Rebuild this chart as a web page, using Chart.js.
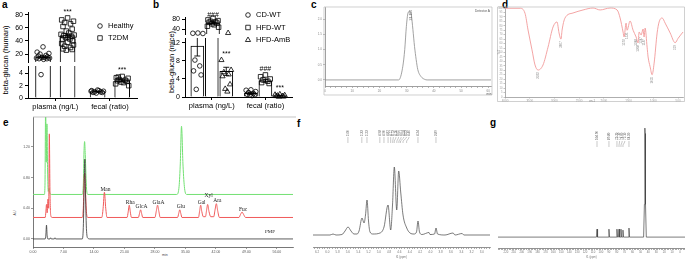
<!DOCTYPE html>
<html>
<head>
<meta charset="utf-8">
<title>beta-glucan figure</title>
<script src="https://cdn.jsdelivr.net/npm/chart.js@4.4.1/dist/chart.umd.min.js"></script>
<style>
  body { margin: 0; background: #fff; }
  #fig { position: relative; width: 685px; height: 259px; overflow: hidden; background: #fff;
         font-family: "Liberation Sans", Arial, sans-serif; color: #000; }
  #fig canvas { position: absolute; }
  .tag { position: absolute; font-weight: bold; font-size: 10px; line-height: 10px; }
  .txt { position: absolute; line-height: 1; white-space: nowrap; }
  .rot { transform: translate(-50%, -50%) rotate(-90deg); }
</style>
</head>
<body>
<div id="fig">
  <div class="tag" style="left:2px;top:0px">a</div>
  <div class="tag" style="left:153px;top:0px">b</div>
  <div class="tag" style="left:311px;top:0px">c</div>
  <div class="tag" style="left:502px;top:0px">d</div>
  <div class="tag" style="left:3px;top:118px">e</div>
  <div class="tag" style="left:297px;top:119px">f</div>
  <div class="tag" style="left:490px;top:118px">g</div>
  <div class="txt rot" style="left:6px;top:60px;font-size:7.5px">beta-glucan (human)</div>
  <div class="txt rot" style="left:172px;top:62px;font-size:7.5px">beta-glucan (mice)</div>
  <div class="txt rot" style="left:16px;top:213px;font-size:3.5px;color:#444">AU</div>
  <div class="txt" style="left:162px;top:254px;font-size:3.5px;color:#444">min</div>
</div>
<script>
// ---------- panel a : human ----------
const groupLabels = ['plasma (ng/L)', 'fecal (ratio)'];
const humanNames = ['Healthy', 'T2DM'];
const healthyMean = [15.5, 1.05];
const t2dmMean = [48, 2.8];
const healthySem = [1.2, 0.06];
const t2dmSem = [2.6, 0.15];
const healthyPlasma = [31, 23, 21, 20, 18, 17, 16, 15, 15, 14, 14, 13, 13, 12, 3.8];
const healthyFecal = [1.3, 1.2, 1.1, 1.0, 1.0, 0.9, 0.9, 0.8, 1.2, 1.1];
const t2dmPlasma = [75, 72, 70, 68, 66, 62, 58, 55, 52, 50, 49, 48, 47, 46, 45, 43, 42, 40, 38, 36, 34, 32, 30, 28, 27, 26];
const t2dmFecal = [3.5, 3.3, 3.2, 3.0, 2.9, 2.8, 2.7, 2.6, 2.5, 2.3, 2.0, 3.4];
const humanMarks = [['', ''], ['***', '***']];
const aUpperTicks = [20, 40, 60, 80];
const aLowerTicks = [0, 1, 2, 3, 4, 5];

// ---------- panel b : mice ----------
const mouseNames = ['CD-WT', 'HFD-WT', 'HFD-AmB'];
const cdMean = [11.3, 0.8];
const hfdMean = [65, 3.6];
const amBMean = [5.7, 0.3];
const cdSem = [2.2, 0.18];
const hfdSem = [4, 0.3];
const amBSem = [0.9, 0.08];
const cdPlasma = [24, 23, 22, 8.2, 6.9, 5.8, 4.9, 1.7];
const cdFecal = [1.6, 1.5, 1.2, 1.0, 0.8, 0.6, 0.5, 0.4, 0.3];
const hfdPlasma = [84, 78, 75, 72, 70, 68, 65, 62, 58, 52, 48];
const hfdFecal = [4.9, 4.5, 4.0, 3.8, 3.5, 3.2, 3.0];
const amBPlasma = [24, 8.2, 6.0, 5.5, 5.0, 4.6, 2.8, 1.8, 1.2];
const amBFecal = [0.6, 0.5, 0.4, 0.3, 0.2, 0.2, 0.1, 0.05];
const mouseMarks = [['', ''], ['###', '###'], ['***', '***']];
const bUpperTicks = [40, 80];
const bLowerTicks = [0, 2, 4, 6, 8, 10, 12];

// ---------- panel c : HPGPC ----------
const cTrace = [[0, 0], [27, 0], [27.4, 0.02], [28.6, 0.45], [29.3, 1.0], [29.9, 1.76], [30.5, 2.2], [31.1, 2.26],
  [31.7, 2.15], [32.3, 1.66], [32.9, 1.1], [33.5, 0.67], [34.1, 0.34], [35.3, 0.11], [36.6, 0.02], [37.5, 0], [61, 0]];
const cPeakTime = 31.1;
const cTimeTicks = [0, 10, 20, 30, 40, 50, 60];
const cSignalTicks = [0, 0.5, 1.0, 1.5, 2.0];

// ---------- panel d : FT-IR ----------
const dSpectrum = [[4000, 99.7], [3899, 99.7], [3696, 99.7], [3595, 94], [3534, 75.3], [3454, 53], [3393, 36],
  [3332, 30.3], [3231, 36], [3130, 56], [3028, 78.7], [2948, 84.3], [2907, 72], [2867, 65], [2846, 75],
  [2786, 88.8], [2624, 94.4], [2421, 97.8], [2219, 100], [2077, 97.8], [1875, 100], [1733, 97.8], [1672, 88.8],
  [1612, 73], [1592, 67.4], [1551, 83], [1531, 75], [1470, 85.4], [1409, 75], [1348, 67.4], [1308, 60.7],
  [1288, 73], [1247, 69.7], [1207, 76.4], [1187, 67.4], [1166, 77.5], [1126, 56], [1106, 45], [1065, 34],
  [1025, 25], [984, 38], [923, 72], [883, 84.3], [822, 88.8], [761, 83], [660, 72], [559, 61], [498, 66], [400, 73]];
const dMinima = [3332, 2867, 1592, 1531, 1348, 1308, 1247, 1187, 1025, 559];
const dWaveTicks = [4000, 3500, 3000, 2500, 2000, 1500, 1000, 500];

// ---------- panel e : monosaccharides ----------
const ePMP = [[0, 0], [2.8, 0], [2.95, 0.05], [3.1, 0.18], [3.25, 0.04], [3.45, 0], [3.9, 0], [4.05, 0.015], [4.2, 0],
  [4.9, 0], [5.05, 0.015], [5.2, 0], [11.3, 0], [11.55, 0.15], [11.75, 0.7], [11.9, 1.04], [12.05, 0.6],
  [12.3, 0.1], [12.6, 0.01], [13, 0], [59.7, 0]];
const eSample = [[0, 0.28], [2.8, 0.28], [2.95, 0.35], [3.1, 0.45], [3.25, 0.34], [3.45, 0.52], [3.6, 0.4],
  [3.75, 1.37], [3.9, 0.6], [4.1, 0.3], [4.4, 0.28], [11.3, 0.28], [11.55, 0.4], [11.75, 0.8], [11.88, 0.86],
  [12.0, 0.7], [12.3, 0.33], [12.6, 0.28],
  [15.8, 0.28], [16.1, 0.4], [16.4, 0.61], [16.7, 0.4], [17.0, 0.28],
  [21.6, 0.28], [21.85, 0.35], [22.1, 0.44], [22.35, 0.35], [22.6, 0.28],
  [24.2, 0.28], [24.45, 0.33], [24.7, 0.38], [24.95, 0.33], [25.2, 0.28],
  [28.0, 0.28], [28.3, 0.36], [28.6, 0.44], [28.9, 0.36], [29.2, 0.28],
  [33.2, 0.28], [33.45, 0.33], [33.7, 0.38], [33.95, 0.33], [34.2, 0.28],
  [38.0, 0.28], [38.25, 0.36], [38.5, 0.44], [38.75, 0.36], [39.1, 0.29],
  [39.6, 0.29], [39.85, 0.37], [40.1, 0.45], [40.4, 0.36], [40.8, 0.29],
  [41.5, 0.29], [41.8, 0.38], [42.1, 0.46], [42.4, 0.37], [42.8, 0.28],
  [47.3, 0.28], [47.65, 0.32], [48.0, 0.35], [48.35, 0.32], [48.8, 0.28], [59.7, 0.28]];
const eStandard = [[0, 0.58], [2.6, 0.58], [2.75, 0.7], [2.9, 1.75], [3.05, 1.0], [3.2, 1.5], [3.35, 0.9],
  [3.5, 0.62], [3.7, 0.66], [3.85, 0.6], [4.2, 0.58], [11.3, 0.58], [11.55, 0.7], [11.72, 1.15], [11.85, 1.27],
  [12.0, 1.1], [12.3, 0.65], [12.6, 0.58], [33.0, 0.58], [33.5, 0.66], [33.8, 0.95], [34.1, 1.47],
  [34.45, 0.95], [34.8, 0.66], [35.3, 0.58], [59.7, 0.58]];
const eSugarNames = ['Man', 'Rha', 'GlcA', 'GlaA', 'Glu', 'Gal', 'Xyl', 'Ara', 'Fuc'];
const eSugarTimes = [16.4, 22.1, 24.7, 28.6, 33.7, 38.5, 40.1, 42.1, 48.0];
const eSugarHeights = [0.61, 0.44, 0.38, 0.44, 0.38, 0.44, 0.45, 0.46, 0.35];
const eTimeTicks = [0, 7, 14, 21, 28, 35, 42, 49, 56];
const eAbsTicks = [0, 0.4, 0.8, 1.2];

// ---------- panel f : 1H NMR ----------
const fSpectrum = [[6.278, 0], [5.948, 0], [5.889, 1], [5.831, 0], [5.715, 0.5], [5.656, 4], [5.598, 8],
  [5.540, 4], [5.482, 1], [5.423, 1], [5.384, 4], [5.326, 17], [5.287, 12], [5.258, 20], [5.229, 35],
  [5.200, 14], [5.171, 3], [5.113, 1], [4.977, 2], [4.899, 8], [4.821, 30], [4.769, 5], [4.734, 30],
  [4.699, 68], [4.652, 25], [4.614, 64], [4.575, 43], [4.530, 20], [4.458, 7], [4.394, 2], [4.317, 1],
  [4.268, 3], [4.239, 14], [4.210, 3], [4.161, 0.5], [4.025, 2.5], [4.006, 0.5], [3.918, 1], [3.889, 7],
  [3.860, 1], [3.715, 0], [3.559, 2], [3.520, 0], [3.384, 1.5], [3.346, 0], [2.841, 0]];
const fPeakLabels = [5.60, 5.33, 5.23, 4.98, 4.90, 4.82, 4.77, 4.73, 4.70, 4.65, 4.61, 4.58, 4.53, 4.46, 4.24, 3.89];
const fShiftTicks = [6.2, 6.0, 5.8, 5.6, 5.4, 5.2, 5.0, 4.8, 4.6, 4.4, 4.2, 4.0, 3.8, 3.6, 3.4, 3.2, 3.0];

// ---------- panel g : 13C NMR ----------
const gSpectrum = [[230, 0], [105.6, 0], [104.9, 7.3], [104.2, 0], [90.5, 0], [89.8, 7.3], [89.1, 0],
  [80.4, 0], [79.7, 7.3], [79.0, 0], [77.8, 0], [77.1, 7.3], [76.4, 0], [75.3, 0], [74.6, 7.3], [73.9, 0],
  [72.8, 0], [72.1, 6.4], [71.4, 0], [65.2, 0], [64.5, 8.3], [63.8, 0], [46, 0], [45, 30], [44.5, 95],
  [44.3, 100], [44.1, 95], [43.6, 30], [42.6, 0], [-6.3, 0]];
const gPeakLabels = [104.9, 89.8, 79.7, 77.1, 74.6, 72.1, 64.5];
const gShiftTicks = [220, 210, 200, 190, 180, 170, 160, 150, 140, 130, 120, 110, 100, 90, 80, 70, 60, 50, 40, 30, 20, 10, 0];

// ---------- setup ----------
Chart.defaults.font.family = '"Liberation Sans", Arial, sans-serif';
Chart.defaults.color = '#000';
Chart.defaults.animation = false;
Chart.defaults.responsive = false;
Chart.defaults.events = [];
Chart.defaults.plugins.legend.display = false;
Chart.defaults.plugins.tooltip.enabled = false;

const fig = document.getElementById('fig');
const spread = [0, -0.9, 0.9, -0.45, 0.45, -0.7, 0.7, -0.2, 0.2, -1, 1, -0.6, 0.6, 0.1, -0.3, 0.35, -0.8, 0.8];

function makeCanvas(left, top, w, h) {
  const c = document.createElement('canvas');
  c.width = w;
  c.height = h;
  c.style.left = left + 'px';
  c.style.top = top + 'px';
  c.style.width = w + 'px';
  c.style.height = h + 'px';
  fig.appendChild(c);
  return c.getContext('2d');
}

function ladder(from, to, step) {
  const out = [];
  const n = Math.round((to - from) / step);
  for (let i = 0; i <= n; i++) out.push(+(from + i * step).toFixed(4));
  return out;
}

function isMajor(v, list) {
  return list.some(m => Math.abs(m - v) < 1e-6);
}

// axes keep the plot area where the layout puts it, whatever their edge labels need
function noEdgePadding(s) {
  s.paddingTop = 0;
  s.paddingBottom = 0;
  s.paddingLeft = 0;
  s.paddingRight = 0;
}

// error bars, significance marks and the inner legend of the dot/bar panels
function errorPlugin(o) {
  return {
    id: 'errorBars',
    afterDatasetsDraw(chart) {
      const { ctx, chartArea: a } = chart;
      const y = chart.scales.y;
      ctx.save();
      ctx.beginPath();
      ctx.rect(a.left, a.top, a.right - a.left, a.bottom - a.top);
      ctx.clip();
      ctx.strokeStyle = '#000';
      ctx.lineWidth = 0.9;
      o.errors.forEach((errs, g) => {
        const bars = chart.getDatasetMeta(g).data;
        errs.forEach((e, i) => {
          const m = o.means[g][i];
          const x = bars[i].x;
          const y1 = y.getPixelForValue(m - e);
          const y2 = y.getPixelForValue(m + e);
          ctx.beginPath();
          ctx.moveTo(x, y1); ctx.lineTo(x, y2);
          ctx.moveTo(x - 3, y1); ctx.lineTo(x + 3, y1);
          ctx.moveTo(x - 3, y2); ctx.lineTo(x + 3, y2);
          ctx.stroke();
        });
      });
      ctx.restore();
    }
  };
}

function markPlugin(o) {
  return {
    id: 'marks',
    afterDatasetsDraw(chart) {
      const ctx = chart.ctx;
      const y = chart.scales.y;
      ctx.save();
      ctx.font = '7px "Liberation Sans", Arial, sans-serif';
      ctx.textAlign = 'center';
      ctx.textBaseline = 'middle';
      ctx.fillStyle = '#000';
      o.marks.forEach((row, g) => row.forEach((txt, i) => {
        const m = o.means[g][i];
        if (!txt || m < y.min || m > y.max) return;
        const shown = o.points[g][i].filter(v => v <= y.max);
        const top = Math.max(m + o.errors[g][i], ...shown);
        const x = chart.getDatasetMeta(g).data[i].x;
        ctx.fillText(txt, x, Math.max(y.getPixelForValue(top) - 6, o.markMinY));
      }));
      ctx.restore();
    }
  };
}

function legendPlugin(o) {
  return {
    id: 'dotLegend',
    afterDraw(chart) {
      if (!o.legend) return;
      const ctx = chart.ctx;
      ctx.save();
      ctx.font = '7.5px "Liberation Sans", Arial, sans-serif';
      ctx.textBaseline = 'middle';
      ctx.textAlign = 'left';
      ctx.strokeStyle = '#000';
      ctx.lineWidth = 0.8;
      o.names.forEach((name, g) => {
        const y = o.legend.y + g * o.legend.dy;
        ctx.fillStyle = 'rgba(0,0,0,0)';
        Chart.helpers.drawPoint(ctx, { pointStyle: o.shapes[g], radius: o.radii[g], borderWidth: 0.8, rotation: 0 }, o.legend.x, y);
        ctx.fillStyle = '#000';
        ctx.fillText(name, o.legend.x + o.legend.gap, y);
      });
      ctx.restore();
    }
  };
}

function dotBarChart(ctx, o) {
  const nSets = o.means.length;
  const groupX = (g, i) => i + (g - (nSets - 1) / 2) * o.slot;
  const inSegment = v => v >= o.yMin && v <= o.yMax;
  const datasets = [];
  // each half of the broken axis only carries the bars and dots that fall inside it
  o.means.forEach((m, g) => datasets.push({
    type: 'bar', label: o.names[g],
    data: m.map((v, i) => ({ x: groupX(g, i), y: v >= o.yMin ? v : null })),
    grouped: false, barThickness: o.barPx,
    backgroundColor: '#fff', borderColor: '#000', borderWidth: 1, clip: 0, order: 3
  }));
  o.points.forEach((perCat, g) => {
    const data = [];
    perCat.forEach((vals, i) => vals.forEach((v, k) => {
      if (inSegment(v)) data.push({ x: groupX(g, i) + spread[k % spread.length] * o.jitter, y: v });
    }));
    datasets.push({
      type: 'scatter', label: o.names[g], data,
      pointStyle: o.shapes[g], pointRadius: o.radii[g], borderColor: '#000',
      backgroundColor: 'rgba(0,0,0,0)', borderWidth: 0.8,
      clip: { left: 5, right: 5, top: 3, bottom: 3 }, order: 1
    });
  });

  return new Chart(ctx, {
    type: 'bar',
    data: { datasets },
    options: {
      devicePixelRatio: 1,
      layout: { padding: o.padding },
      scales: {
        x: {
          type: 'linear', min: -0.5, max: groupLabels.length - 0.5, offset: false, display: o.showX,
          afterBuildTicks: s => { s.ticks = groupLabels.map((_, i) => ({ value: i })); },
          grid: { display: true, offset: false, drawOnChartArea: false, tickLength: 3, color: '#000', lineWidth: 1 },
          border: { color: '#000', width: 1 },
          ticks: { font: { size: 7.5 }, padding: 1, maxRotation: 0, autoSkip: false, callback: v => groupLabels[v] },
          afterFit: s => { noEdgePadding(s); if (o.showX) s.height = 14; }
        },
        y: {
          min: o.yMin, max: o.yMax,
          afterFit: s => { noEdgePadding(s); s.width = o.yWidth; },
          afterBuildTicks: s => { s.ticks = o.yTicks.map(v => ({ value: v })); },
          ticks: { font: { size: 7 }, padding: 2 },
          grid: { drawOnChartArea: false, tickLength: 3, color: '#000', lineWidth: 1 },
          border: { color: '#000', width: 1 }
        }
      }
    },
    plugins: [errorPlugin(o), markPlugin(o), legendPlugin(o)]
  });
}

// generic helpers for the trace panels
function axis(o) {
  return {
    type: 'linear', min: o.min, max: o.max, reverse: !!o.reverse, display: o.display !== false,
    afterFit: s => {
      noEdgePadding(s);
      if (!o.size || o.display === false) return;
      if (s.isHorizontal()) s.height = o.size; else s.width = o.size;
    },
    afterBuildTicks: s => { s.ticks = (o.ticks || []).map(v => ({ value: v })); },
    ticks: { font: { size: o.font }, color: o.color, padding: 1, maxRotation: 0, autoSkip: false, callback: o.label },
    grid: { drawOnChartArea: false, tickLength: o.tick || 2, color: o.color, lineWidth: 0.6 },
    border: { color: o.color, width: 0.8 },
    title: o.title ? { display: true, text: o.title, font: { size: o.font }, color: o.color, padding: 0 } : { display: false }
  };
}

function notePlugin(notes) {
  return {
    id: 'notes',
    afterDraw(chart) {
      const ctx = chart.ctx;
      notes.forEach(n => {
        let x = n.x;
        let y = n.y;
        if (n.at) {
          x = chart.scales.x.getPixelForValue(n.at[0]) + (n.dx || 0);
          y = chart.scales.y.getPixelForValue(n.at[1]) + (n.dy || 0);
        }
        ctx.save();
        ctx.font = n.font;
        ctx.fillStyle = n.color || '#000';
        ctx.textAlign = n.align || 'center';
        ctx.textBaseline = 'middle';
        ctx.translate(x, y);
        if (n.rotate) ctx.rotate(-Math.PI / 2);
        ctx.fillText(n.text, 0, 0);
        ctx.restore();
      });
    }
  };
}

function framePlugin(segments, color) {
  return {
    id: 'frame',
    afterDraw(chart) {
      const ctx = chart.ctx;
      ctx.save();
      ctx.strokeStyle = color;
      ctx.lineWidth = 0.7;
      segments.forEach(([x0, y0, x1, y1]) => {
        ctx.beginPath();
        ctx.moveTo(x0, y0);
        ctx.lineTo(x1, y1);
        ctx.stroke();
      });
      ctx.restore();
    }
  };
}

function peakLabelPlugin(values, digits, bottom, gap, font) {
  return {
    id: 'peakLabels',
    afterDraw(chart) {
      const { ctx } = chart;
      const x = chart.scales.x;
      const items = values.map(v => ({ v, p: x.getPixelForValue(v) })).sort((a, b) => a.p - b.p);
      let prev = -Infinity;
      items.forEach(it => { it.t = Math.max(it.p, prev + gap); prev = it.t; });
      ctx.save();
      ctx.font = font;
      ctx.fillStyle = '#555';
      ctx.strokeStyle = '#777';
      ctx.lineWidth = 0.4;
      ctx.textBaseline = 'middle';
      ctx.textAlign = 'left';
      items.forEach(it => {
        ctx.save();
        ctx.translate(it.t, bottom);
        ctx.rotate(-Math.PI / 2);
        ctx.fillText(it.v.toFixed(digits), 0, 0);
        ctx.restore();
        ctx.beginPath();
        ctx.moveTo(it.t, bottom + 1);
        ctx.lineTo(it.t, bottom + 2);
        ctx.lineTo(it.p, bottom + 5);
        ctx.lineTo(it.p, bottom + 7);
        ctx.stroke();
      });
      ctx.restore();
    }
  };
}

function traceChart(ctx, o) {
  return new Chart(ctx, {
    type: 'line',
    data: {
      datasets: o.series.map(s => ({
        data: s.data, borderColor: s.color, borderWidth: s.width || 0.8, pointRadius: 0,
        cubicInterpolationMode: s.smooth === false ? 'default' : 'monotone', tension: 0,
        clip: s.clip === undefined ? 0 : s.clip, fill: false
      }))
    },
    options: {
      devicePixelRatio: 1,
      layout: { padding: o.padding },
      scales: { x: axis(o.x), y: axis(o.y) }
    },
    plugins: o.plugins || []
  });
}

// ---------- panel a ----------
const aBase = {
  names: humanNames, means: [healthyMean, t2dmMean], errors: [healthySem, t2dmSem],
  points: [[healthyPlasma, healthyFecal], [t2dmPlasma, t2dmFecal]],
  marks: humanMarks, shapes: ['circle', 'rect'], radii: [2.3, 3.2],
  slot: 0.45, barPx: 15, jitter: 0.12, yWidth: 28
};
dotBarChart(makeCanvas(0, 5, 142, 63), Object.assign({}, aBase, {
  showX: false, padding: { top: 7, bottom: 6 }, yMin: 8, yMax: 84, yTicks: aUpperTicks,
  markMinY: 7, legend: { x: 100, y: 21, dy: 12, gap: 8 }
}));
dotBarChart(makeCanvas(0, 59, 142, 53), Object.assign({}, aBase, {
  showX: true, padding: { top: 7 }, yMin: 0, yMax: 5.2, yTicks: aLowerTicks, markMinY: 4
}));

// ---------- panel b ----------
const bBase = {
  names: mouseNames, means: [cdMean, hfdMean, amBMean], errors: [cdSem, hfdSem, amBSem],
  points: [[cdPlasma, cdFecal], [hfdPlasma, hfdFecal], [amBPlasma, amBFecal]],
  marks: mouseMarks, shapes: ['circle', 'rect', 'triangle'], radii: [2.3, 3.2, 3],
  slot: 0.27, barPx: 13, jitter: 0.1, yWidth: 20
};
dotBarChart(makeCanvas(165, 10, 140, 36), Object.assign({}, bBase, {
  showX: false, padding: { top: 7, right: 8, bottom: 12 }, yMin: 20, yMax: 90, yTicks: bUpperTicks,
  markMinY: 5, legend: { x: 83, y: 5, dy: 12.5, gap: 8 }
}));
dotBarChart(makeCanvas(165, 31, 132, 80), Object.assign({}, bBase, {
  showX: true, padding: { top: 7 }, yMin: 0, yMax: 13.1, yTicks: bLowerTicks, markMinY: 4
}));

// ---------- panel c ----------
traceChart(makeCanvas(310, 0, 184, 98), {
  padding: { top: 7, right: 3 },
  series: [{ data: cTrace, color: '#8a8a8a', width: 0.8, clip: 2 }],
  x: { min: 0, max: 61, ticks: ladder(0, 60, 2), size: 12, font: 3, color: '#888',
       label: v => (isMajor(v, cTimeTicks) ? v : '') },
  y: { min: -0.2, max: 2.4, ticks: cSignalTicks, size: 15, font: 3, color: '#888', label: v => v.toFixed(1) },
  plugins: [
    framePlugin([[14, 7, 182, 7], [182, 7, 182, 95], [182, 95, 14, 95], [14, 95, 14, 7]], '#bbb'),
    notePlugin([
      { text: 'Detector A', x: 180, y: 11, font: '3.2px "Liberation Sans"', color: '#555', align: 'right' },
      { text: 'min', x: 179, y: 94.5, font: '3px "Liberation Sans"', color: '#555' },
      { text: cPeakTime.toFixed(3), at: [cPeakTime, 2.26], dx: 1.5, dy: -1.5, rotate: true, align: 'right',
        font: '3.5px "Liberation Sans"', color: '#666' }
    ])
  ]
});

// ---------- panel d ----------
traceChart(makeCanvas(497, 2, 188, 100), {
  padding: { top: 6, right: 2 },
  series: [{ data: dSpectrum, color: '#f29a9a', width: 0.9, clip: 2 }],
  x: { min: 400, max: 4000, reverse: true, ticks: dWaveTicks, size: 5, font: 3, color: '#999', tick: 1.5 },
  y: { min: 0, max: 100, ticks: ladder(0, 100, 5), size: 8, font: 2.6, color: '#999', tick: 1.5 },
  plugins: [
    framePlugin([[0.5, 5, 187.5, 5], [187.5, 5, 187.5, 99.5], [187.5, 99.5, 0.5, 99.5], [0.5, 99.5, 0.5, 5]], '#bbb'),
    notePlugin([
      { text: '%T', x: 2, y: 50, rotate: true, font: '3px "Liberation Sans"', color: '#888' },
      { text: 'cm-1', x: 95, y: 99, font: '2.8px "Liberation Sans"', color: '#888' }
    ].concat(dMinima.map(w => ({
      text: String(w), at: [w, dSpectrum.find(p => p[0] === w)[1]], dy: 2, rotate: true, align: 'right',
      font: '3px "Liberation Sans"', color: '#888'
    }))))
  ]
});

// ---------- panel e ----------
traceChart(makeCanvas(0, 112, 296, 147), {
  padding: { top: 5, right: 3 },
  series: [
    { data: ePMP, color: '#333333', width: 0.8 },
    { data: eSample, color: '#f05a5a', width: 1 },
    { data: eStandard, color: '#72e072', width: 1 }
  ],
  x: { min: 0, max: 59.7, ticks: eTimeTicks, size: 12, font: 3.5, color: '#555', label: v => v.toFixed(2) },
  y: { min: -0.105, max: 1.59, ticks: eAbsTicks, size: 33, font: 3.5, color: '#555', label: v => v.toFixed(2) },
  plugins: [
    framePlugin([[33, 5, 296, 5]], '#aaa'),
    notePlugin(eSugarNames.map((name, i) => ({
      text: name, at: [eSugarTimes[i], eSugarHeights[i]], dx: 1, dy: name === 'Xyl' ? -9 : -3,
      font: '5.5px "Liberation Serif", "Times New Roman", serif', color: '#222'
    })).concat([{ text: 'PMP', x: 270, y: 120, font: '5px "Liberation Serif", serif', color: '#222' }]))
  ]
});

// ---------- panel f ----------
traceChart(makeCanvas(305, 125, 190, 134), {
  padding: { top: 15, left: 8, right: 5 },
  series: [{ data: fSpectrum, color: '#444', width: 0.7 }],
  x: { min: 2.841, max: 6.278, reverse: true, ticks: ladder(2.85, 6.25, 0.05), size: 12, font: 3, color: '#777',
       label: v => (isMajor(v, fShiftTicks) ? v.toFixed(1) : ''), title: 'f1 (ppm)' },
  y: { min: -12, max: 95, display: false },
  plugins: [peakLabelPlugin(fPeakLabels, 2, 11, 2.6, '3px "Liberation Sans"')]
});

// ---------- panel g ----------
traceChart(makeCanvas(490, 122, 195, 137), {
  padding: { top: 5, left: 8, right: 0 },
  series: [{ data: gSpectrum, color: '#444', width: 0.7, smooth: false }],
  x: { min: -6.3, max: 230, reverse: true, ticks: ladder(-6, 230, 2), size: 11, font: 2.8, color: '#777',
       label: v => (isMajor(v, gShiftTicks) ? v : ''), title: 'f1 (ppm)' },
  y: { min: -10, max: 101, display: false },
  plugins: [peakLabelPlugin(gPeakLabels, 2, 18, 2.6, '3px "Liberation Sans"')]
});
</script>
</body>
</html>
